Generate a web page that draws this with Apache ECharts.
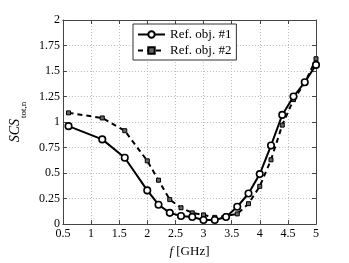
<!DOCTYPE html>
<html><head><meta charset="utf-8">
<script src="https://cdn.jsdelivr.net/npm/echarts@6/dist/echarts.min.js"></script>
<style>html,body{margin:0;padding:0;background:#fff}#c{width:349px;height:263px}</style>
</head><body><div id="c"></div>
<script>
var freq = [0.6,1.2,1.6,2.0,2.2,2.4,2.6,2.8,3.0,3.2,3.4,3.6,3.8,4.0,4.2,4.4,4.6,4.8,5.0];
var obj1 = [0.96,0.83,0.65,0.33,0.19,0.11,0.08,0.07,0.04,0.04,0.07,0.17,0.30,0.49,0.77,1.07,1.25,1.39,1.56];
var obj2 = [1.09,1.04,0.915,0.62,0.43,0.24,0.16,0.11,0.09,0.066,0.08,0.10,0.20,0.37,0.63,0.97,1.22,1.38,1.62];
var seriesNames = ['Ref. obj. #1','Ref. obj. #2'];
var FONT = '"Liberation Serif", "DejaVu Serif", serif';
function pairs(ys){ return freq.map(function(x,i){ return [x, ys[i]]; }); }
var chart = echarts.init(document.getElementById('c'), null, {renderer:'canvas'});
var axisCommon = {
  axisLine:{show:true,onZero:false,lineStyle:{color:'#444',width:1}},
  axisTick:{show:true,inside:true,length:4,lineStyle:{color:'#444'}},
};
chart.setOption({
  animation:false,
  grid:{left:50,right:33,top:20,bottom:31},
  legend:{
    orient:'vertical', left:133, top:24,
    backgroundColor:'#fff', borderColor:'#333', borderWidth:1,
    padding:[4,5,3,4], itemGap:3, itemWidth:27, itemHeight:8,
    textStyle:{fontFamily:FONT,fontSize:13,color:'#000'},
    data:seriesNames
  },
  xAxis:[{
    type:'value', min:0.5, max:5, interval:0.5, position:'bottom',
    axisLine:axisCommon.axisLine, axisTick:axisCommon.axisTick,
    axisLabel:{fontFamily:FONT,fontSize:12,color:'#000',margin:4,formatter:function(v){return String(+v.toFixed(2));}},
    splitLine:{show:true,lineStyle:{color:'#bbb',type:[1,2],width:1}},
    name:'{i|f} [GHz]', nameLocation:'middle', nameGap:18,
    nameTextStyle:{fontFamily:FONT,fontSize:13,color:'#000',rich:{i:{fontFamily:FONT,fontStyle:'italic',fontSize:13,color:'#000'}}}
  },{
    type:'value', min:0.5, max:5, interval:0.5, position:'top',
    axisLine:axisCommon.axisLine, axisTick:axisCommon.axisTick,
    axisLabel:{show:false}, splitLine:{show:false}
  }],
  yAxis:[{
    type:'value', min:0, max:2, interval:0.25, position:'left',
    axisLine:axisCommon.axisLine, axisTick:axisCommon.axisTick,
    axisLabel:{fontFamily:FONT,fontSize:12,color:'#000',margin:3,formatter:function(v){return String(+v.toFixed(2));}},
    splitLine:{show:true,lineStyle:{color:'#bbb',type:[1,2],width:1}},
    name:'{a|SCS}{b|tot,n}', nameLocation:'middle', nameGap:28, nameRotate:90,
    nameTextStyle:{rich:{
      a:{fontFamily:FONT,fontStyle:'italic',fontSize:14,color:'#000',verticalAlign:'bottom',lineHeight:16},
      b:{fontFamily:FONT,fontSize:9,color:'#000',verticalAlign:'bottom',lineHeight:16,padding:[0,0,-6,1]}
    }}
  },{
    type:'value', min:0, max:2, interval:0.25, position:'right',
    axisLine:axisCommon.axisLine, axisTick:axisCommon.axisTick,
    axisLabel:{show:false}, splitLine:{show:false}
  }],
  series:[{
    name:seriesNames[0], type:'line', data:pairs(obj1),
    symbol:'circle', symbolSize:6.5,
    lineStyle:{color:'#000',width:2},
    itemStyle:{color:'#fff',borderColor:'#000',borderWidth:1.6},
    z:3
  },{
    name:seriesNames[1], type:'line', data:pairs(obj2),
    symbol:'rect', symbolSize:4,
    lineStyle:{color:'#000',width:2,type:[5,4]},
    itemStyle:{color:'#666',borderColor:'#000',borderWidth:1},
    z:2
  }]
});
</script></body></html>
